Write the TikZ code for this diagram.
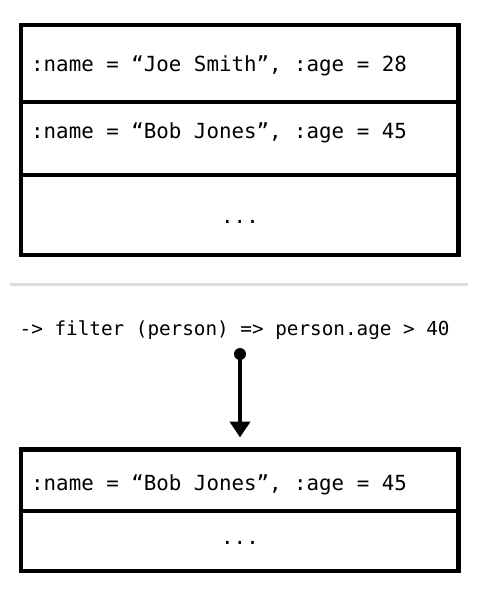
\documentclass[tikz,border=0pt]{standalone}
\usepackage{fontspec}
\newfontfamily\monofont{DejaVu Sans Mono}
\usetikzlibrary{arrows.meta}
\definecolor{sepgray}{HTML}{DCDCDC}
\tikzset{
  rowbox/.style={draw=black, line width=4.5pt, rectangle, inner sep=0pt, minimum width=437.5pt},
  rowtext/.style={anchor=base west, inner sep=0pt, font=\monofont\fontsize{20.8}{24}\selectfont},
  dotstext/.style={anchor=base, inner sep=0pt, font=\monofont\fontsize{20.8}{24}\selectfont},
  codetext/.style={anchor=base west, inner sep=0pt, font=\monofont\fontsize{19.3}{23}\selectfont},
  flow/.style={line width=4pt, -{Triangle[width=20pt,length=16pt]}},
}
\begin{document}
\begin{tikzpicture}[x=1pt, y=-1pt]
\useasboundingbox (0,0) rectangle (480,600);
% top list
\node[rowbox, minimum height=77pt] (r1) at (239.75,63.5) {};
\node[rowbox, minimum height=73pt] (r2) at (239.75,138.5) {};
\node[rowbox, minimum height=80pt] (r3) at (239.75,215) {};
\node[rowtext] (t1) at (31,71) {:name = “Joe Smith”, :age = 28};
\node[rowtext] (t2) at (31,138.5) {:name = “Bob Jones”, :age = 45};
\node[dotstext] (t3) at (240,223) {...};
% separator
\coordinate (sepL) at (9.5,284.2);
\coordinate (sepR) at (467.5,284.2);
\draw[sepgray, line width=3pt] (sepL) -- (sepR);
% code
\node[codetext] (code) at (19.5,335.5) {-> filter (person) => person.age > 40};
% arrow
\node[circle, fill=black, inner sep=0pt, minimum size=12pt] (dot) at (240,354) {};
\coordinate (tip) at (240,437.5);
\draw[flow] (dot.center) -- (tip);
% bottom list
\node[rowbox, minimum height=61.5pt] (b1) at (239.75,480.25) {};
\node[rowbox, minimum height=60pt] (b2) at (239.75,541) {};
\node[rowtext] (bt1) at (31,490) {:name = “Bob Jones”, :age = 45};
\node[dotstext] (bt2) at (240,544) {...};
\end{tikzpicture}
\end{document}
